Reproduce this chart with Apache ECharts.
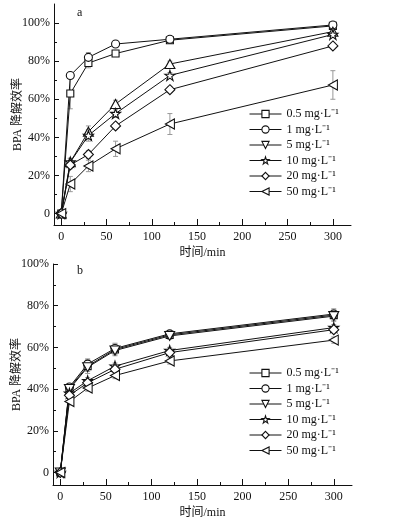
<!DOCTYPE html>
<html>
<head>
<meta charset="utf-8">
<script src="https://cdn.jsdelivr.net/npm/echarts@6/dist/echarts.min.js"></script>
<style>
  html, body { margin: 0; padding: 0; background: #fff; }
  #chart { width: 393px; height: 524px; }
</style>
</head>
<body>
<div id="chart"></div>
<script>
// 时间点 (min)
const times = [0, 10, 30, 60, 120, 300];
const seriesNames = ['0.5 mg·L⁻¹', '1 mg·L⁻¹', '5 mg·L⁻¹', '10 mg·L⁻¹', '20 mg·L⁻¹', '50 mg·L⁻¹'];

// 图 a 降解效率 (%)
const a05 = [0, 63, 79, 84, 91, 98.5];
const a1 = [0, 72.5, 82, 89, 91.5, 99];
const a5 = [0, 27, 43, 57.5, 78.5, 95.5];
const a10 = [0, 27, 41, 52.5, 72.5, 94];
const a20 = [0, 25.5, 31, 46, 65, 88];
const a50 = [0, 15.5, 25, 34, 47, 67.5];
// 图 a 误差
const a05Err = [0, 8, 2.5, 1, 1, 1];
const a1Err = [0, 1.5, 2.5, 1, 1, 1];
const a5Err = [0, 2, 3, 2, 1.5, 1];
const a10Err = [0, 2, 3, 2, 1.5, 1];
const a20Err = [0, 2, 2, 1.5, 1.5, 1.5];
const a50Err = [0, 4, 3, 4, 5.5, 7.5];

// 图 b 降解效率 (%)
const b05 = [0, 40.5, 51, 59, 66, 75.5];
const b1 = [0, 41, 52, 59.5, 66.5, 76];
const b5 = [0, 40, 50.5, 58.5, 65.5, 75];
const b10 = [0, 38, 44, 51, 58.5, 69.5];
const b20 = [0, 37, 43, 49.5, 57.5, 68.5];
const b50 = [0, 34, 40.5, 46.5, 53.5, 63.5];
// 图 b 误差
const b05Err = [0, 2, 3.5, 3, 2, 3];
const b1Err = [0, 1.5, 2, 2, 1.5, 2];
const b5Err = [0, 1.5, 2, 2, 1.5, 2];
const b10Err = [0, 1.5, 1.5, 1.5, 1.5, 1.5];
const b20Err = [0, 1.5, 1.5, 1.5, 1.5, 1.5];
const b50Err = [0, 1.5, 1.5, 1.5, 1.5, 1.5];

// 刻度
const xMajorTicks = [0, 50, 100, 150, 200, 250, 300];
const xMinorTicks = [25, 75, 125, 175, 225, 275];
const yMajorTicks = [0, 20, 40, 60, 80, 100];
const yMinorTicks = [10, 30, 50, 70, 90];

const serif = "'Liberation Serif', 'Noto Sans CJK SC', serif";
const black = '#111';

const starPath = 'path://M5,0 L6.2,3.6 L10,3.6 L6.9,5.9 L8.1,9.5 L5,7.3 L1.9,9.5 L3.1,5.9 L0,3.6 L3.8,3.6 Z';
const triDownPath = 'path://M0,0 L10,0 L5,9 Z';
const triLeftPath = 'path://M0,5 L9,0 L9,10 Z';

const symbolsA = ['rect', 'circle', 'triangle', starPath, 'diamond', triLeftPath];
const symbolsB = ['rect', 'circle', triDownPath, starPath, 'diamond', triLeftPath];
const sizes = [7, 8, [10, 9], 10, 10, [9, 10]];

const valuesA = [a05, a1, a5, a10, a20, a50];
const errA = [a05Err, a1Err, a5Err, a10Err, a20Err, a50Err];
const valuesB = [b05, b1, b5, b10, b20, b50];
const errB = [b05Err, b1Err, b5Err, b10Err, b20Err, b50Err];

const chart = echarts.init(document.getElementById('chart'));

function makeX(gi) {
    return [
        {
            gridIndex: gi, type: 'value', min: -8, max: 320, position: 'bottom',
            axisLine: { onZero: false, lineStyle: { color: black, width: 1 } },
            axisTick: { inside: true, length: 6, customValues: xMajorTicks, lineStyle: { color: black } },
            axisLabel: { customValues: xMajorTicks, color: black, fontFamily: serif, fontSize: 12, margin: 6 },
            splitLine: { show: false },
            name: '时间/min', nameLocation: 'middle', nameGap: 22, nameMoveOverlap: false,
            nameTextStyle: { color: black, fontFamily: serif, fontSize: 12 }
        },
        {
            gridIndex: gi, type: 'value', min: -8, max: 320, position: 'bottom',
            axisLine: { show: false, onZero: false },
            axisTick: { inside: true, length: 3, customValues: xMinorTicks, lineStyle: { color: black } },
            axisLabel: { show: false },
            splitLine: { show: false }
        }
    ];
}

function makeY(gi, yMax) {
    return [
        {
            gridIndex: gi, type: 'value', min: -6, max: yMax, position: 'left',
            axisLine: { show: true, onZero: false, lineStyle: { color: black, width: 1 } },
            axisTick: { show: true, inside: true, length: 5, customValues: yMajorTicks, lineStyle: { color: black } },
            axisLabel: {
                customValues: yMajorTicks, color: black, fontFamily: serif, fontSize: 12, margin: 4,
                formatter: v => v === 0 ? '0' : v + '%'
            },
            splitLine: { show: false },
            name: 'BPA 降解效率', nameLocation: 'middle', nameGap: 30, nameRotate: 90, nameMoveOverlap: false,
            nameTextStyle: { color: black, fontFamily: serif, fontSize: 12 }
        },
        {
            gridIndex: gi, type: 'value', min: -6, max: yMax, position: 'left',
            axisLine: { show: false, onZero: false },
            axisTick: { show: true, inside: true, length: 3, customValues: yMinorTicks, lineStyle: { color: black } },
            axisLabel: { show: false },
            splitLine: { show: false }
        }
    ];
}

function errorSeries(gi, vals, errs) {
    const data = [];
    vals.forEach((v, i) => {
        if (errs[i] > 0) data.push([times[i], v - errs[i], v + errs[i]]);
    });
    return {
        type: 'custom', xAxisIndex: gi * 2, yAxisIndex: gi * 2, z: 1,
        silent: true,
        data: data,
        renderItem: (params, api) => {
            const x = api.value(0);
            const top = api.coord([x, api.value(2)]);
            const bot = api.coord([x, api.value(1)]);
            const st = { stroke: '#999', lineWidth: 1 };
            return {
                type: 'group',
                children: [
                    { type: 'line', shape: { x1: top[0], y1: top[1], x2: bot[0], y2: bot[1] }, style: st },
                    { type: 'line', shape: { x1: top[0] - 2.5, y1: top[1], x2: top[0] + 2.5, y2: top[1] }, style: st },
                    { type: 'line', shape: { x1: bot[0] - 2.5, y1: bot[1], x2: bot[0] + 2.5, y2: bot[1] }, style: st }
                ]
            };
        }
    };
}

function lineSeries(gi, vals, idx, symbols) {
    return {
        name: seriesNames[idx],
        type: 'line', xAxisIndex: gi * 2, yAxisIndex: gi * 2, z: 3,
        data: times.map((t, i) => [t, vals[i]]),
        symbol: symbols[idx], symbolSize: sizes[idx], showAllSymbol: true,
        itemStyle: { color: '#fff', borderColor: black, borderWidth: 1.1 },
        lineStyle: { color: black, width: 1 },
        emphasis: { disabled: true }
    };
}

const series = [];
// 图 b 放前面, 图例取其符号
valuesB.forEach((v, i) => series.push(lineSeries(1, v, i, symbolsB)));
valuesA.forEach((v, i) => series.push(lineSeries(0, v, i, symbolsA)));
errA.forEach((e, i) => series.push(errorSeries(0, valuesA[i], e)));
errB.forEach((e, i) => series.push(errorSeries(1, valuesB[i], e)));

const legendBase = {
    orient: 'vertical', left: 244, itemWidth: 32, itemHeight: 9, itemGap: 3.5,
    selectedMode: false, data: seriesNames,
    itemStyle: { color: '#fff', borderColor: black, borderWidth: 1.1 },
    lineStyle: { color: black, width: 1 },
    textStyle: { color: black, fontFamily: serif, fontSize: 12, lineHeight: 12 }
};

const option = {
    animation: false,
    backgroundColor: '#fff',
    title: [
        { text: 'a', left: 72, top: 2, textStyle: { color: black, fontFamily: serif, fontSize: 12, fontWeight: 'normal' } },
        { text: 'b', left: 72, top: 260, textStyle: { color: black, fontFamily: serif, fontSize: 12, fontWeight: 'normal' } }
    ],
    grid: [
        { left: 54, right: 42, top: 4, bottom: 299, outerBoundsMode: 'none' },
        { left: 53, right: 41, top: 264, bottom: 39, outerBoundsMode: 'none' }
    ],
    legend: [
        Object.assign({}, legendBase, { top: 103 }),
        Object.assign({}, legendBase, { top: 362 })
    ],
    xAxis: [...makeX(0), ...makeX(1)],
    yAxis: [...makeY(0, 110), ...makeY(1, 100)],
    series: series
};

chart.setOption(option);
</script>
</body>
</html>
